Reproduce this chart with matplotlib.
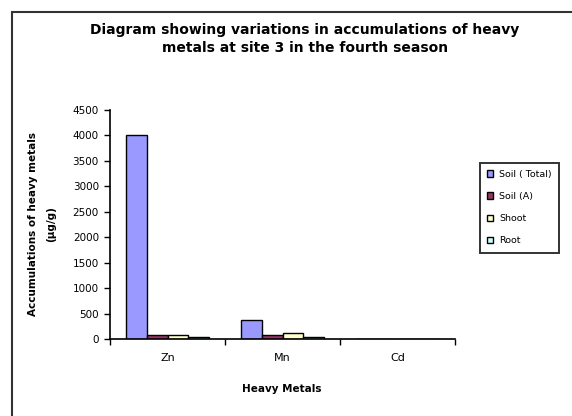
import numpy as np
import matplotlib.pyplot as plt
from matplotlib.patches import Rectangle

plt.rcParams['font.family'] = ['DejaVu Sans']

metals = ['Zn', 'Mn', 'Cd']
series = ['Soil ( Total)', 'Soil (A)', 'Shoot', 'Root']
soil_total = [4010, 370, 1]
soil_a = [75, 75, 0.5]
shoot = [70, 110, 0.5]
root = [30, 30, 0.3]
colors = ['#9999FF', '#993366', '#FFFFCC', '#CCFFFF']
yticks = np.arange(0, 4501, 500)

values = [soil_total, soil_a, shoot, root]

fig = plt.figure(figsize=(5.72, 4.16), dpi=100)
ax = fig.add_axes([110/572, 1-339/416, 345/572, 229/416])

x = np.arange(len(metals))
w = 0.18
for i, (name, vals) in enumerate(zip(series, values)):
    ax.bar(x + (i - 1.5)*w, vals, width=w, color=colors[i], edgecolor='black',
           linewidth=1.0, label=name)

ax.set_xlim(-0.5, 2.5)
ax.set_ylim(0, 4500)
ax.set_yticks(yticks)
ax.set_yticklabels([str(v) for v in yticks], fontsize=7.5)
ax.set_xticks([-0.5, 0.5, 1.5, 2.5])
ax.set_xticklabels([])
ax.set_xticks(x, minor=True)
ax.set_xticklabels(metals, minor=True, fontsize=8)
ax.tick_params(axis='x', which='minor', length=0, pad=10)
ax.tick_params(axis='both', which='major', direction='out', length=4, width=1, color='black')
ax.tick_params(axis='y', pad=4)
for s in ['top', 'right']:
    ax.spines[s].set_visible(False)
for s in ['left', 'bottom']:
    ax.spines[s].set_linewidth(1.2)

fig.text(305/572, 1-39/416, 'Diagram showing variations in accumulations of heavy\nmetals at site 3 in the fourth season',
         ha='center', va='center', fontsize=10, fontweight='bold', linespacing=1.4)
fig.text(282/572, 1-389/416, 'Heavy Metals', ha='center', va='center', fontsize=7.5, fontweight='bold')
fig.text(42/572, 1-224/416, 'Accumulations of heavy metals\n(µg/g)', ha='center', va='center',
         rotation=90, fontsize=7.5, fontweight='bold', linespacing=2.1)

leg = fig.legend(loc='upper left', bbox_to_anchor=(475/572, 1-158/416), fontsize=6.8,
                 frameon=True, fancybox=False, edgecolor='black', handlelength=0.7,
                 handleheight=0.7, labelspacing=1.4, borderpad=0.75, handletextpad=0.6)
leg.get_frame().set_linewidth(1.4)

# outer chart border
fig.patches.append(Rectangle((12/572, -0.1), 1.2, 1 - 12/416 + 0.1, transform=fig.transFigure,
                             fill=False, edgecolor='#333333', linewidth=1.5))

fig.savefig('out.png', dpi=100)
